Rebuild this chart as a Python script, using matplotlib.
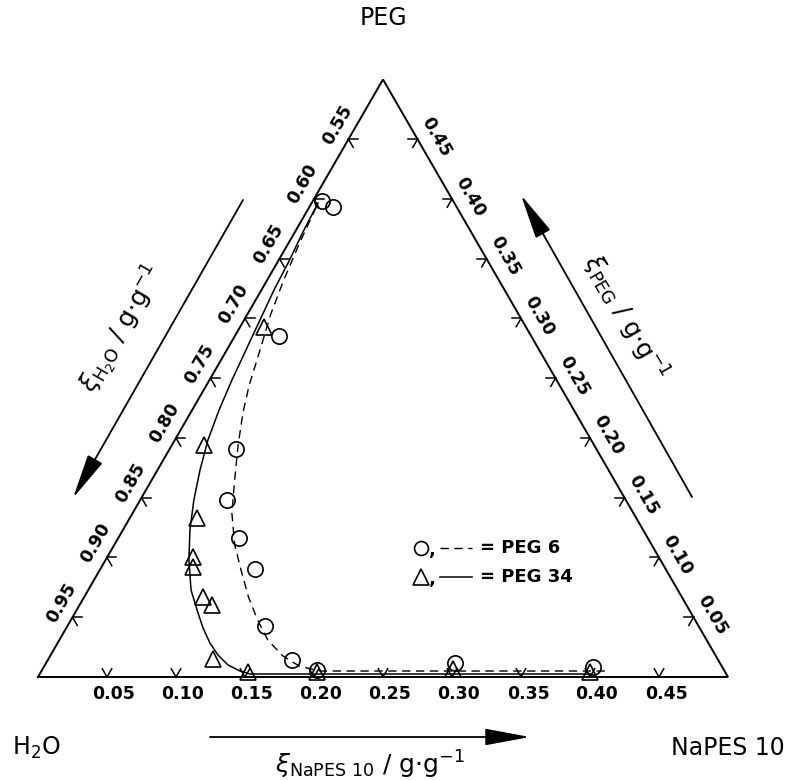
import numpy as np
import matplotlib.pyplot as plt

# tick values on the three sides (mass fractions)
napes_ticks = [0.05, 0.10, 0.15, 0.20, 0.25, 0.30, 0.35, 0.40, 0.45]
peg_ticks = [0.05, 0.10, 0.15, 0.20, 0.25, 0.30, 0.35, 0.40, 0.45]
h2o_ticks = [0.95, 0.90, 0.85, 0.80, 0.75, 0.70, 0.65, 0.60, 0.55]

# measured tie points, xi_NaPES and xi_PEG (rest is water)
peg6_napes = [0.007, 0.017, 0.032, 0.048, 0.063, 0.088, 0.112, 0.143, 0.177, 0.199, 0.296, 0.398]
peg6_peg = [0.398, 0.393, 0.285, 0.191, 0.148, 0.116, 0.090, 0.043, 0.014, 0.006, 0.012, 0.008]
peg34_napes = [0.017, 0.023, 0.049, 0.062, 0.066, 0.086, 0.096, 0.119, 0.150, 0.200, 0.297, 0.398]
peg34_peg = [0.293, 0.194, 0.133, 0.100, 0.092, 0.067, 0.060, 0.015, 0.004, 0.004, 0.007, 0.004]

# binodal curves
peg6_curve_napes = [0.005, 0.008, 0.012, 0.017, 0.024, 0.031, 0.038, 0.048, 0.060, 0.072,
                    0.087, 0.102, 0.119, 0.135, 0.151, 0.168, 0.185, 0.202, 0.412]
peg6_curve_peg = [0.393, 0.363, 0.332, 0.303, 0.274, 0.244, 0.221, 0.194, 0.165, 0.137,
                  0.111, 0.090, 0.067, 0.048, 0.031, 0.018, 0.009, 0.005, 0.005]
peg34_curve_napes = [0.0046, 0.0058, 0.0079, 0.0091, 0.0115, 0.0139, 0.0163, 0.0195, 0.0240,
                     0.0308, 0.0389, 0.0486, 0.0604, 0.0745, 0.0872, 0.0991, 0.1104, 0.1212,
                     0.1327, 0.1439, 0.1524, 0.3988]
peg34_curve_peg = [0.3966, 0.3724, 0.3481, 0.3238, 0.2987, 0.2736, 0.2485, 0.2234, 0.1983,
                   0.1732, 0.1481, 0.1230, 0.0979, 0.0728, 0.0561, 0.0410, 0.0284, 0.0184,
                   0.0100, 0.0050, 0.0025, 0.0025]

S3 = np.sqrt(3) / 2

def to_xy(napes, peg):
    napes = np.asarray(napes); peg = np.asarray(peg)
    return napes + peg / 2, peg * S3

def pix(px, py):
    # figure pixel -> data coords (triangle corner H2O at pixel 38,677; 1380 px per unit)
    return (px - 38) / 1380, (677 - py) / 1380

fig = plt.figure(figsize=(7.9, 7.8), dpi=100)
ax = fig.add_axes([0, 0, 1, 1])
ax.set_xlim(-38 / 1380, 752 / 1380)
ax.set_ylim(-103 / 1380, 677 / 1380)
ax.axis('off')

# triangle
tri = np.array([[0, 0], [0.5, 0], [0.25, 0.5 * S3], [0, 0]])
ax.plot(tri[:, 0], tri[:, 1], color='k', lw=1.4, solid_joinstyle='miter')

tl = 9.5 / 1380  # tick arm length
def tick(p, d1, d2):
    for d in (d1, d2):
        ax.plot([p[0], p[0] + tl * d[0]], [p[1], p[1] + tl * d[1]], color='k', lw=1.1)

def ticklabel(p, txt, outward, along, rot):
    q = (p[0] + outward[0] * 17 / 1380 + along[0] * 7 / 1380,
         p[1] + outward[1] * 17 / 1380 + along[1] * 7 / 1380)
    ax.text(q[0], q[1], txt, rotation=rot, ha='center', va='center',
            fontsize=12.5, fontweight='bold', rotation_mode='anchor')

up_r = (0.5, S3); up_l = (-0.5, S3); right = (1, 0); left = (-1, 0)
dn_r = (0.5, -S3); dn_l = (-0.5, -S3)

for v in napes_ticks:
    p = to_xy(v, 0)
    tick(p, up_r, up_l)
    ticklabel(p, f"{v:.2f}", (0, -1), (1, 0), 0)
for v in peg_ticks:
    p = to_xy(0.5 - v, v)
    tick(p, left, dn_l)
    ticklabel(p, f"{v:.2f}", (S3, 0.5), dn_r, -60)
for v in h2o_ticks:
    p = to_xy(0, 1 - v)
    tick(p, right, dn_r)
    ticklabel(p, f"{v:.2f}", (-S3, 0.5), up_r, 60)

# curves
x, y = to_xy(peg6_curve_napes, peg6_curve_peg)
ax.plot(x, y, color='k', lw=1.0, dashes=(6, 4))
x, y = to_xy(peg34_curve_napes, peg34_curve_peg)
ax.plot(x, y, color='k', lw=1.1)

# points
x, y = to_xy(peg6_napes, peg6_peg)
ax.plot(x, y, 'o', ms=11, mfc='none', mec='k', mew=1.2)
x, y = to_xy(peg34_napes, peg34_peg)
ax.plot(x, y, '^', ms=12, mfc='none', mec='k', mew=1.2)

# corner labels
ax.text(*pix(383, 18), "PEG", ha='center', va='center', fontsize=17)
ax.text(*pix(36, 748), "H$_2$O", ha='center', va='center', fontsize=17)
ax.text(*pix(728, 748), "NaPES 10", ha='center', va='center', fontsize=17)

# axis arrows
arr = dict(arrowstyle='-|>,head_length=1.4,head_width=0.26', lw=1.3, color='k',
           mutation_scale=20, shrinkA=0, shrinkB=0)
ax.annotate('', xy=pix(530, 737), xytext=pix(210, 737), arrowprops=arr)
ax.annotate('', xy=pix(73, 498), xytext=pix(243, 200), arrowprops=arr)
ax.annotate('', xy=pix(521, 195), xytext=pix(692, 497), arrowprops=arr)

ax.text(*pix(370, 765), r"$\xi_{\mathrm{NaPES\ 10}}$ / g$\cdot$g$^{-1}$",
        ha='center', va='center', fontsize=18)
ax.text(*pix(122, 330), r"$\xi_{\mathrm{H_2O}}$ / g$\cdot$g$^{-1}$",
        ha='center', va='center', fontsize=18, rotation=60, rotation_mode='anchor')
ax.text(*pix(625, 318), r"$\xi_{\mathrm{PEG}}$ / g$\cdot$g$^{-1}$",
        ha='center', va='center', fontsize=18, rotation=-60, rotation_mode='anchor')

# legend
lx, ly = pix(421, 548)
ax.plot(lx, ly, 'o', ms=10, mfc='none', mec='k', mew=1.2)
lx, ly = pix(421, 577)
ax.plot(lx, ly, '^', ms=11, mfc='none', mec='k', mew=1.2)
ax.text(*pix(429, 550), ",", ha='left', va='center', fontsize=13, fontweight='bold')
ax.text(*pix(429, 579), ",", ha='left', va='center', fontsize=13, fontweight='bold')
a, b = pix(440, 548), pix(472, 548)
ax.plot([a[0], b[0]], [a[1], b[1]], color='k', lw=1.0, dashes=(6, 4))
a, b = pix(440, 577), pix(472, 577)
ax.plot([a[0], b[0]], [a[1], b[1]], color='k', lw=1.1)
ax.text(*pix(480, 548), "= PEG 6", ha='left', va='center', fontsize=13, fontweight='bold')
ax.text(*pix(480, 577), "= PEG 34", ha='left', va='center', fontsize=13, fontweight='bold')

fig.savefig('out.png', dpi=100)
